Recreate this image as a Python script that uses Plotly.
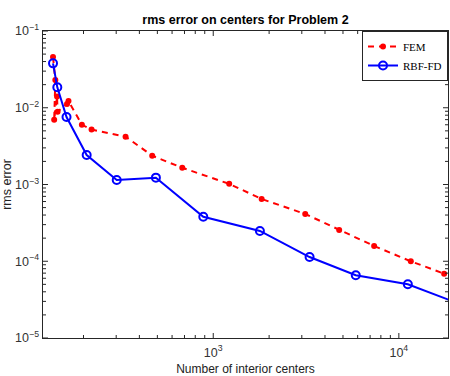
import math
import plotly.graph_objects as go

# Convergence data: number of interior centers vs. rms error
fem_n = [137, 141, 139, 144, 145, 163, 166, 196, 221, 337, 469, 681, 1219,
         1823, 3130, 4770, 7360, 11600, 17540]
fem_err = [0.0458, 0.023, 0.0070, 0.0140, 0.0089, 0.0112, 0.0122, 0.0060,
           0.0052, 0.0042, 0.00237, 0.00165, 0.00102, 0.000647, 0.000413,
           0.000255, 0.000158, 0.0000998, 0.0000689]

rbf_n = [137, 144.5, 162, 208, 302, 491, 884, 1784, 3304, 5860, 11180, 22000]
rbf_err = [0.0379, 0.01845, 0.00758, 0.00242, 0.001145, 0.001228, 0.00038,
           0.000248, 0.0001135, 0.0000656, 0.0000501, 0.0000270]

x_range = [121, 18400]
y_range = [1e-5, 1e-1]

title_text = "rms error on centers for Problem 2"
x_title = "Number of interior centers"
y_title = "rms error"

AX_COLOR = "#262626"
SANS = "Liberation Sans, Arial"

fig = go.Figure()

fig.add_trace(go.Scatter(
    x=fem_n, y=fem_err, name="FEM", mode="lines+markers",
    line=dict(color="#ff0000", width=2, dash="6px,5px"),
    marker=dict(symbol="circle", size=6, color="#ff0000"),
))
fig.add_trace(go.Scatter(
    x=rbf_n, y=rbf_err, name="RBF-FD", mode="lines+markers",
    line=dict(color="#0000ff", width=2),
    marker=dict(symbol="circle-open", size=8, color="#0000ff",
                line=dict(width=2, color="#0000ff")),
))


def minor_positions(lo, hi):
    vals = []
    for e in range(math.floor(math.log10(lo)), math.ceil(math.log10(hi)) + 1):
        for d in range(2, 10):
            v = d * 10 ** e
            if lo < v < hi:
                vals.append(v)
    return vals


def major_positions(lo, hi):
    return [10 ** e for e in range(math.ceil(math.log10(lo)),
                                   math.floor(math.log10(hi)) + 1)]


xr = [math.log10(x_range[0]), math.log10(x_range[1])]
yr = [math.log10(y_range[0]), math.log10(y_range[1])]


def frac(v, r):
    return (math.log10(v) - r[0]) / (r[1] - r[0])


x_major = major_positions(*x_range)
y_major = major_positions(*y_range)
x_minor = minor_positions(*x_range)
y_minor = minor_positions(*y_range)

PLOT_W, PLOT_H = 405.0, 307.0

# tick marks on all four sides of the frame, in paper coordinates
shapes = []
for v in x_major + x_minor:
    ln = 5 if v in x_major else 3
    f = frac(v, xr)
    for y0, sgn in ((0, 1), (1, -1)):
        shapes.append(dict(type="line", xref="paper", yref="paper", x0=f, x1=f,
                           y0=y0, y1=y0 + sgn * ln / PLOT_H,
                           line=dict(color=AX_COLOR, width=1)))
for v in y_major + y_minor:
    ln = 5 if v in y_major else 3
    f = frac(v, yr)
    for x0, sgn in ((0, 1), (1, -1)):
        shapes.append(dict(type="line", xref="paper", yref="paper", y0=f, y1=f,
                           x0=x0, x1=x0 + sgn * ln / PLOT_W,
                           line=dict(color=AX_COLOR, width=1)))

axis_common = dict(
    type="log", showgrid=False, zeroline=False, automargin=False,
    showline=True, linecolor=AX_COLOR, linewidth=1, mirror=True,
    ticks="", dtick=1, exponentformat="power",
    tickfont=dict(family=SANS, size=10, color="#333333"),
)

fig.update_layout(
    width=450, height=376,
    margin=dict(l=43, r=2, t=31, b=38),
    paper_bgcolor="white", plot_bgcolor="white",
    shapes=shapes,
    title=dict(text="<b>" + title_text + "</b>", x=0.5455, xanchor="center",
               y=0.947, yanchor="middle",
               font=dict(family=SANS, size=12.5, color="black")),
    xaxis=dict(axis_common, range=xr, ticklabelstandoff=3,
               title=dict(text=x_title, standoff=6,
                          font=dict(family=SANS, size=12, color="#222222"))),
    yaxis=dict(axis_common, range=yr, ticklabelstandoff=1,
               title=dict(text=y_title, standoff=2,
                          font=dict(family=SANS, size=12.5, color="#222222"))),
    legend=dict(x=1, y=1, xanchor="right", yanchor="top",
                bgcolor="white", bordercolor=AX_COLOR, borderwidth=1,
                font=dict(family="Liberation Serif, Times New Roman", size=11,
                          color="black"),
                itemwidth=30, tracegroupgap=0),
    showlegend=True,
)

fig.write_html("out.html")
